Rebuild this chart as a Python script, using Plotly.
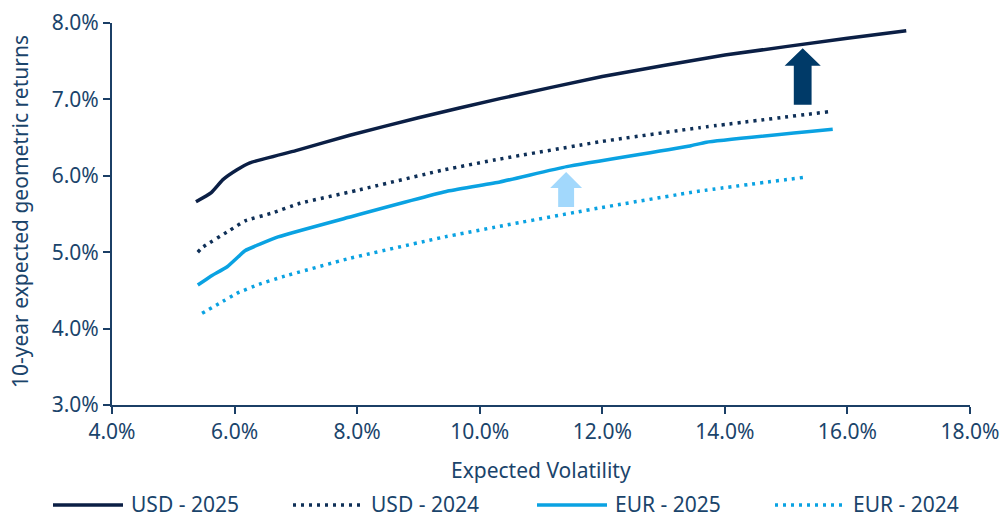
import plotly.graph_objects as go

# Efficient frontier points: expected volatility (%) vs 10-year expected geometric return (%)
usd_2025_vol = [5.37, 5.62, 5.81, 6.04, 6.25, 7.00, 7.88, 9.00, 10.33, 12.00, 14.00, 16.00, 16.96]
usd_2025_ret = [5.66, 5.78, 5.95, 6.08, 6.17, 6.33, 6.53, 6.76, 7.01, 7.30, 7.58, 7.80, 7.90]

usd_2024_vol = [5.40, 5.49, 5.93, 6.17, 6.60, 7.07, 8.00, 9.43, 10.33, 12.00, 13.59, 15.71]
usd_2024_ret = [5.00, 5.07, 5.29, 5.41, 5.51, 5.64, 5.81, 6.08, 6.22, 6.45, 6.63, 6.84]

eur_2025_vol = [5.40, 5.60, 5.88, 6.06, 6.17, 6.71, 7.88, 9.48, 10.33, 11.42, 13.43, 13.70, 15.76]
eur_2025_ret = [4.57, 4.68, 4.81, 4.94, 5.02, 5.20, 5.46, 5.80, 5.92, 6.12, 6.39, 6.44, 6.61]

eur_2024_vol = [5.47, 5.75, 6.06, 6.40, 6.79, 7.88, 9.43, 10.33, 11.96, 13.59, 15.29]
eur_2024_ret = [4.20, 4.33, 4.47, 4.58, 4.68, 4.92, 5.20, 5.34, 5.58, 5.80, 5.98]

series_names = ["USD - 2025", "USD - 2024", "EUR - 2025", "EUR - 2024"]

# Upward shift arrows: (x, bottom, head base, tip)
usd_arrow = (15.27, 6.93, 7.44, 7.67)
eur_arrow = (11.41, 5.59, 5.84, 6.05)

NAVY = "#0b1f45"
NAVY_DOT = "#0e2f57"
BLUE = "#0aa2e2"
TEXT = "#1a446b"
AXIS = "#1b3f66"
FONT = "Noto Sans"
FS = 21
DOT = "3px,5px"

# Plot-area geometry (pixels) used to place the legend and axis titles
W, H = 1000, 520
L, R, T, B = 112, 30, 23, 115
PW, PH = W - L - R, H - T - B


def px_x(p):
    return (p - L) / PW


def px_y(p):
    return (H - B - p) / PH


styles = [
    dict(color=NAVY, dash="solid"),
    dict(color=NAVY_DOT, dash=DOT),
    dict(color=BLUE, dash="solid"),
    dict(color=BLUE, dash=DOT),
]
data = [
    (usd_2025_vol, usd_2025_ret),
    (usd_2024_vol, usd_2024_ret),
    (eur_2025_vol, eur_2025_ret),
    (eur_2024_vol, eur_2024_ret),
]

fig = go.Figure()
for (xs, ys), name, st in zip(data, series_names, styles):
    fig.add_trace(go.Scatter(x=xs, y=ys, mode="lines", name=name, showlegend=False,
                             line=dict(color=st["color"], width=3.5, dash=st["dash"],
                                       shape="spline", smoothing=0.4)))


def arrow_path(spec, shaft_w, head_w):
    x, y0, y1, y2 = spec
    return (f"M{x - shaft_w / 2},{y0} L{x + shaft_w / 2},{y0} L{x + shaft_w / 2},{y1} "
            f"L{x + head_w / 2},{y1} L{x},{y2} L{x - head_w / 2},{y1} L{x - shaft_w / 2},{y1} Z")


fig.add_shape(type="path", xref="x", yref="y", path=arrow_path(usd_arrow, 0.29, 0.59),
              fillcolor="#003a68", line=dict(width=0))
fig.add_shape(type="path", xref="x", yref="y", path=arrow_path(eur_arrow, 0.26, 0.52),
              fillcolor="#a2d8fc", line=dict(width=0))

# Legend row beneath the axis title: long line swatch followed by the series name
legend_starts = [53, 293, 537, 775]
legend_y = 504
for x0, name, st in zip(legend_starts, series_names, styles):
    fig.add_shape(type="line", xref="paper", yref="paper",
                  x0=px_x(x0), x1=px_x(x0 + 70), y0=px_y(legend_y + 1), y1=px_y(legend_y + 1),
                  line=dict(color=st["color"], width=3.5, dash=st["dash"]))
    fig.add_annotation(text=name, xref="paper", yref="paper", x=px_x(x0 + 77), y=px_y(legend_y),
                       xanchor="left", yanchor="middle", showarrow=False, borderpad=0,
                       font=dict(size=FS, color=TEXT, family=FONT))

# Axis titles
fig.add_annotation(text="Expected Volatility", xref="paper", yref="paper",
                   x=px_x(541), y=px_y(470), xanchor="center", yanchor="middle",
                   showarrow=False, font=dict(size=FS, color=TEXT, family=FONT))
fig.add_annotation(text="10-year expected geometric returns", xref="paper", yref="paper",
                   x=px_x(20), y=px_y(212), xanchor="center", yanchor="middle", textangle=-90,
                   showarrow=False, font=dict(size=FS, color=TEXT, family=FONT))

fig.update_layout(
    width=W, height=H,
    margin=dict(l=L, r=R, t=T, b=B),
    paper_bgcolor="white", plot_bgcolor="white",
    font=dict(family=FONT, size=FS, color=TEXT),
    showlegend=False,
    xaxis=dict(range=[4, 18], dtick=2, tickformat=".1f", ticksuffix="%",
               showgrid=False, zeroline=False, showline=True, linecolor=AXIS, linewidth=2,
               ticks="outside", ticklen=7, tickwidth=2, tickcolor=AXIS, automargin=False,
               tickfont=dict(size=FS)),
    yaxis=dict(range=[3, 8], dtick=1, tickformat=".1f", ticksuffix="%",
               showgrid=False, zeroline=False, showline=True, linecolor=AXIS, linewidth=2,
               ticks="outside", ticklen=7, tickwidth=2, tickcolor=AXIS, automargin=False,
               tickfont=dict(size=FS)),
)

fig.write_html("out.html")
